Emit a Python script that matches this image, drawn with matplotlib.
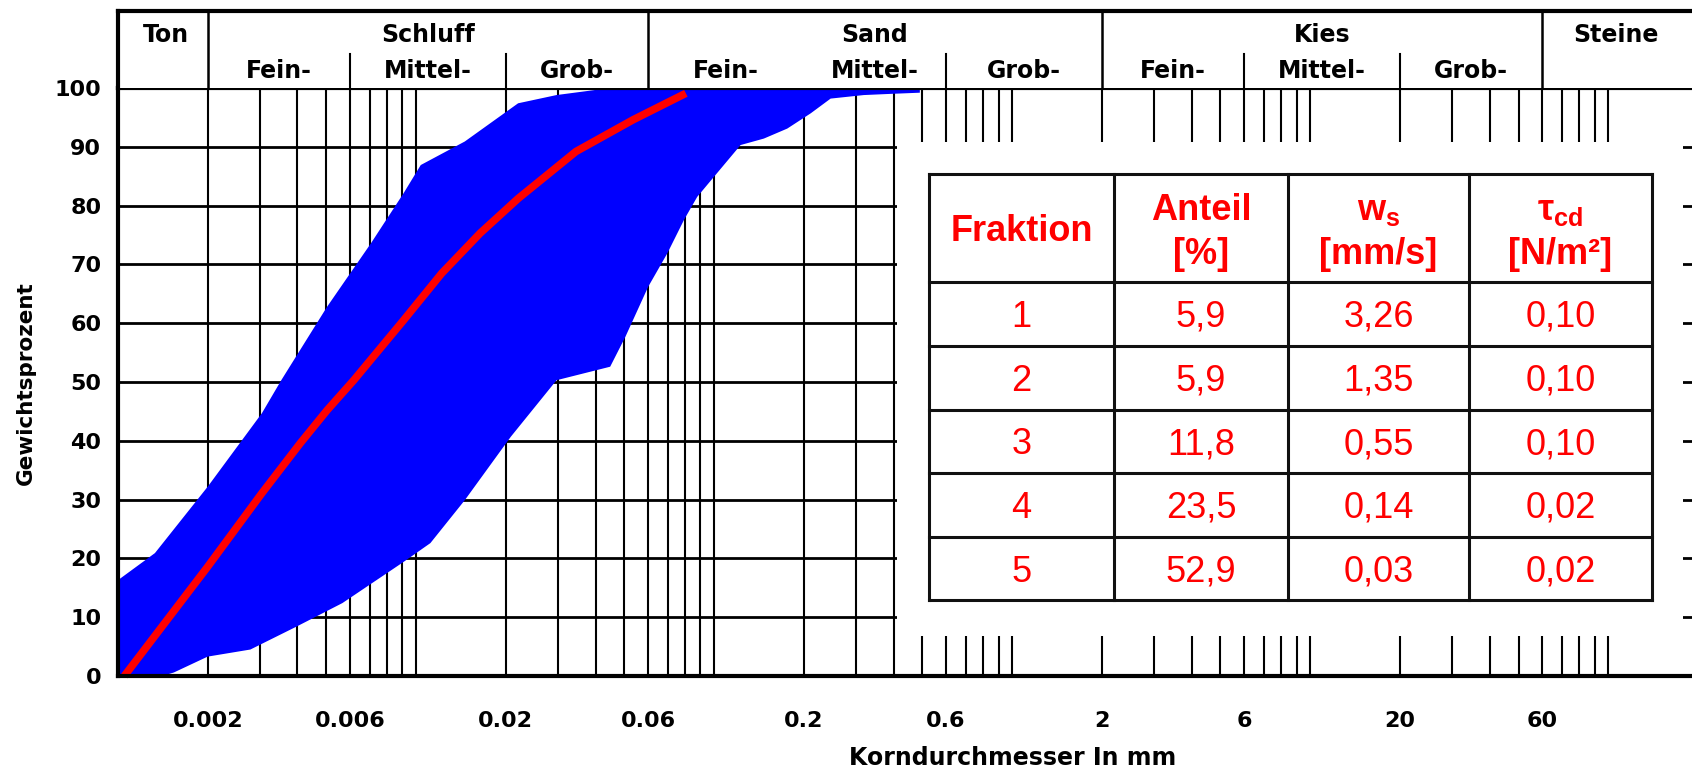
import numpy as np
import matplotlib
matplotlib.use("Agg")
import matplotlib.pyplot as plt
from matplotlib.patches import Rectangle
from matplotlib.lines import Line2D
from matplotlib.ticker import FixedLocator, NullLocator

plt.rcParams['mathtext.fontset'] = 'custom'
plt.rcParams['mathtext.bf'] = 'Liberation Sans:bold'
plt.rcParams['mathtext.rm'] = 'Liberation Sans:bold'
plt.rcParams['mathtext.it'] = 'Liberation Sans:bold:italic'

# ---------------- data ----------------
upper_d = [0.001, 0.00133, 0.002, 0.00304, 0.00353, 0.00503, 0.00706, 0.00908,
           0.01037, 0.01457, 0.0220, 0.0296, 0.0448, 0.49]
upper_p = [16.3, 20.9, 32.2, 44.7, 50.3, 62.8, 73.6, 82.1,
           86.9, 90.9, 97.4, 98.8, 100, 100]
lower_d = [0.001, 0.00141, 0.00154, 0.002, 0.00278, 0.00397, 0.00566, 0.00908,
           0.01117, 0.01457, 0.0208, 0.0296, 0.0448, 0.0504, 0.0601, 0.0697,
           0.0793, 0.0878, 0.0999, 0.1227, 0.1469, 0.176, 0.211, 0.246, 0.318,
           0.391, 0.49]
lower_p = [0, 0, 0.6, 3.3, 4.5, 8.4, 12.4, 19.4,
           22.6, 29.9, 40.7, 50.3, 52.6, 57.7, 66.2, 71.9,
           77.6, 81.5, 84.9, 90.3, 91.4, 93.1, 95.7, 98.2, 98.8,
           99.0, 99.2]
median_d = [0.00105, 0.002, 0.00304, 0.00409, 0.00503, 0.00618, 0.00908,
            0.0122, 0.0164, 0.0220, 0.0344, 0.0535, 0.0804]
median_p = [0, 18.6, 31.1, 39.6, 45.2, 50.3, 60.5, 68.5, 75.3, 81.2, 89.2, 94.6, 99.1]

xtick_vals = [0.002, 0.006, 0.02, 0.06, 0.2, 0.6, 2, 6, 20, 60]
xtick_labels = ["0.002", "0.006", "0.02", "0.06", "0.2", "0.6", "2", "6", "20", "60"]
ytick_vals = [0, 10, 20, 30, 40, 50, 60, 70, 80, 90, 100]

main_bounds = [0.002, 0.06, 2, 60]
main_names = ["Ton", "Schluff", "Sand", "Kies", "Steine"]
main_centers = [0.00145, 0.01095, 0.3464, 10.95, 106]
sub_bounds = [0.006, 0.02, 0.6, 6, 20]
sub_names = ["Fein-", "Mittel-", "Grob-", "Fein-", "Mittel-", "Grob-", "Fein-", "Mittel-", "Grob-"]
sub_centers = [0.00346, 0.01095, 0.0346, 0.1095, 0.3464, 1.095, 3.464, 10.95, 34.64]

col_headers = [["Fraktion"], ["Anteil", "[%]"], ["w$_\\mathbf{s}$", "[mm/s]"],
               ["τ$_\\mathbf{cd}$", "[N/m²]"]]
fraktion = ["1", "2", "3", "4", "5"]
anteil = ["5,9", "5,9", "11,8", "23,5", "52,9"]
ws = ["3,26", "1,35", "0,55", "0,14", "0,03"]
tau_cd = ["0,10", "0,10", "0,10", "0,02", "0,02"]

# ---------------- figure ----------------
W, H = 1692, 772
fig = plt.figure(figsize=(W / 100, H / 100), dpi=100)


def F(x, y):
    return (x / W, 1 - y / H)


LEFT, RIGHT, TOP, BOTTOM, HTOP = 118, 1698, 88, 676, 11
ax = fig.add_axes([LEFT / W, (H - BOTTOM) / H, (RIGHT - LEFT) / W, (BOTTOM - TOP) / H])
ax.set_xscale('log')
ax.set_xlim(0.001, 200)
ax.set_ylim(0, 100)

# grid lines
for k in range(-3, 3):
    for m in range(1, 10):
        v = m * 10.0 ** k
        if 0.0015 < v < 150:
            ax.axvline(v, color='black', lw=1.5, zorder=1)
ax.hlines(range(10, 100, 10), 0.001, 200, color='black', lw=2.0, zorder=1)

# envelope and median
ax.fill(upper_d + lower_d[::-1], upper_p + lower_p[::-1], color='#0000FF', lw=0, zorder=2)
ax.plot(median_d, median_p, color='#FF0000', lw=5.5, solid_capstyle='butt',
        solid_joinstyle='round', zorder=4, clip_on=False)

for s in ['left', 'bottom', 'top']:
    ax.spines[s].set_linewidth(3)
    ax.spines[s].set_zorder(6)
ax.spines['right'].set_visible(False)

ax.xaxis.set_major_locator(FixedLocator(xtick_vals))
ax.xaxis.set_minor_locator(NullLocator())
ax.set_xticklabels(xtick_labels)
ax.set_yticks(ytick_vals)
ax.tick_params(axis='both', length=0)
ax.tick_params(axis='y', pad=12)
ax.tick_params(axis='x', pad=25)
for lab in ax.get_xticklabels() + ax.get_yticklabels():
    lab.set_fontsize(16)
    lab.set_fontweight('bold')

# header
axh = fig.add_axes([LEFT / W, (H - TOP) / H, (RIGHT - LEFT) / W, (TOP - HTOP) / H], sharex=ax)
axh.set_ylim(0, 1)
for s in ['right', 'bottom']:
    axh.spines[s].set_visible(False)
axh.spines['top'].set_linewidth(3)
axh.spines['left'].set_linewidth(3)
axh.tick_params(left=False, bottom=False, labelleft=False, labelbottom=False)
sub_frac = (TOP - 54) / (TOP - HTOP)
for b in main_bounds:
    axh.axvline(b, 0, 1, color='black', lw=1.8)
for b in sub_bounds:
    axh.axvline(b, 0, sub_frac, color='black', lw=1.5)
yb_main = (TOP - 42) / (TOP - HTOP)
yb_sub = (TOP - 78) / (TOP - HTOP)
for c, n in zip(main_centers, main_names):
    axh.text(c, yb_main, n, ha='center', va='baseline', fontsize=17, fontweight='bold')
for c, n in zip(sub_centers, sub_names):
    axh.text(c, yb_sub, n, ha='center', va='baseline', fontsize=17, fontweight='bold')

# axis labels
fig.text(*F(1013, 758), "Korndurchmesser In mm", ha='center', va='center', fontsize=17, fontweight='bold')
fig.text(*F(26, 383), "Gewichtsprozent", ha='center', va='center', rotation=90, fontsize=15.5, fontweight='bold')

# white box over grid
bx0, by0, bx1, by1 = 897, 142, 1683, 636
fig.add_artist(Rectangle(F(bx0, by1), (bx1 - bx0) / W, (by1 - by0) / H, transform=fig.transFigure,
                         facecolor='white', edgecolor='none', zorder=5))

# table
tx = [929, 1114, 1288, 1469, 1652]
ty = [174, 282, 346, 409.5, 473, 537, 600]
tkw = dict(color='#111111', lw=2.2, transform=fig.transFigure, zorder=6, solid_capstyle='projecting')
for x in tx:
    fig.add_artist(Line2D([x / W, x / W], [1 - ty[0] / H, 1 - ty[-1] / H], **tkw))
for y in ty:
    fig.add_artist(Line2D([tx[0] / W, tx[-1] / W], [1 - y / H, 1 - y / H], **tkw))

cx = [(tx[i] + tx[i + 1]) / 2 for i in range(4)]
tfont = ['Liberation Sans', 'DejaVu Sans']
for i, hdr in enumerate(col_headers):
    if len(hdr) == 1:
        fig.text(*F(cx[i], 241), hdr[0], ha='center', va='baseline', fontsize=26,
                 fontweight='bold', color='#FF0000', family=tfont, zorder=7)
    else:
        fig.text(*F(cx[i], 220), hdr[0], ha='center', va='baseline', fontsize=26,
                 fontweight='bold', color='#FF0000', family=tfont, zorder=7)
        fig.text(*F(cx[i], 264), hdr[1], ha='center', va='baseline', fontsize=26,
                 fontweight='bold', color='#FF0000', family=tfont, zorder=7)

for r in range(5):
    yb = (ty[r + 1] + ty[r + 2]) / 2 + 13
    for i, col in enumerate([fraktion, anteil, ws, tau_cd]):
        fig.text(*F(cx[i], yb), col[r], ha='center', va='baseline', fontsize=26,
                 color='#FF0000', family=tfont, zorder=7)

fig.savefig("out.png", dpi=100)
